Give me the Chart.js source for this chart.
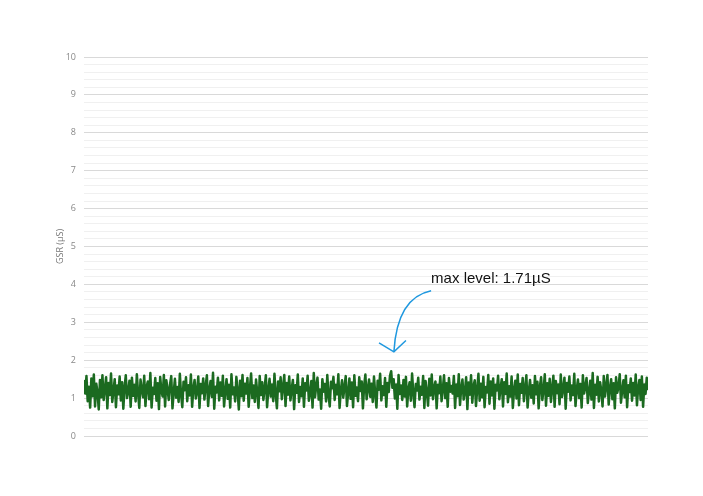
<!DOCTYPE html>
<html lang="en">
<head>
    <meta charset="UTF-8">
    <title>GSR</title>
    <script src="https://cdn.jsdelivr.net/npm/chart.js"></script>
    <style>
        body { margin: 0; background: #fff; }
    </style>
</head>
<body>
    <canvas id="gsrChart" width="703" height="496"></canvas>

    <script>
        // GSR readings (µS)
        const gsrValues = [
            1.45,1.12,1.58,0.92,1.30,0.75,1.52,1.05,1.62,0.78,1.38,1.15,0.70,1.48,1.02,1.60,0.95,1.25,1.55,0.73,
            1.40,1.08,1.65,0.90,1.20,1.50,0.76,1.33,1.10,1.57,0.94,1.42,0.72,1.28,1.60,1.00,1.18,1.46,0.77,1.54,
            1.06,1.35,0.91,1.63,1.14,0.74,1.49,1.22,1.02,1.59,0.79,1.31,1.44,0.97,1.66,0.75,1.27,1.11,1.53,0.93,
            1.39,0.71,1.56,1.19,1.04,1.61,0.78,1.47,1.24,0.95,1.36,1.58,0.73,1.16,1.51,1.01,1.29,0.90,1.64,1.09,
            0.76,1.43,1.21,1.55,0.92,1.34,1.07,1.62,0.77,1.26,1.48,0.99,1.17,1.57,0.74,1.37,1.13,1.52,0.96,1.32,
            1.60,0.79,1.23,1.45,1.03,1.67,0.72,1.30,1.15,1.54,0.94,1.41,1.06,1.59,0.78,1.19,1.50,0.98,1.35,0.75,
            1.63,1.10,1.28,0.91,1.56,1.20,0.70,1.46,1.05,1.61,0.93,1.38,1.12,1.53,0.77,1.25,1.65,1.00,1.33,0.90,
            1.49,1.16,0.74,1.58,1.08,1.42,0.95,1.27,1.60,0.76,1.22,1.51,1.04,1.36,0.92,1.64,1.11,0.73,1.44,1.18,
            1.55,0.97,1.31,1.61,0.79,1.40,1.09,1.57,0.94,1.24,1.48,0.71,1.34,1.14,1.62,0.90,1.29,1.05,1.52,0.77,
            1.39,1.20,1.59,0.93,1.13,1.45,0.75,1.66,1.02,1.32,1.54,0.96,1.23,0.72,1.50,1.17,1.37,0.91,1.61,1.07,
            0.78,1.43,1.26,1.56,0.95,1.35,1.10,1.63,0.74,1.21,1.47,1.01,1.30,1.58,0.79,1.15,1.52,0.98,1.41,0.76,
            1.60,1.06,1.28,0.92,1.55,1.19,1.44,0.73,1.34,1.62,0.97,1.24,1.49,1.03,1.38,0.90,1.57,1.12,0.75,1.46,
            1.22,1.64,0.94,1.31,1.08,1.53,0.77,1.40,1.16,1.59,1.71,1.27,1.50,0.99,1.36,0.72,1.61,1.11,1.33,0.95,
            1.48,1.04,1.56,0.78,1.25,1.42,0.93,1.65,1.14,0.76,1.37,1.20,1.54,0.96,1.30,1.09,1.58,0.74,1.45,1.18,
            0.80,1.51,1.07,1.62,0.97,1.29,1.44,0.73,1.35,1.13,1.57,0.92,1.23,1.60,1.00,1.39,0.77,1.53,1.17,1.32,
            1.12,1.58,0.74,1.36,1.05,1.63,0.82,1.27,1.49,0.96,1.18,1.55,0.71,1.41,1.09,1.60,0.88,1.32,1.47,0.79,
            1.24,1.64,0.93,1.38,1.02,1.56,0.76,1.29,1.15,1.61,0.85,1.44,1.07,1.52,0.72,1.35,1.20,1.59,0.97,1.26,
            1.50,0.78,1.42,1.11,1.65,0.89,1.31,1.04,1.57,0.74,1.22,1.46,0.99,1.62,0.81,1.37,1.14,1.53,0.92,1.28,
            1.60,0.75,1.19,1.48,1.01,1.34,0.86,1.58,1.10,1.43,0.73,1.30,1.55,0.95,1.21,1.63,0.80,1.39,1.06,1.51,
            0.90,1.27,1.59,0.77,1.45,1.13,1.36,0.84,1.62,1.03,1.25,1.54,0.72,1.40,1.17,1.57,0.94,1.33,1.08,1.64,
            0.79,1.23,1.49,1.00,1.37,0.75,1.60,1.12,1.30,1.53,0.87,1.18,1.46,0.96,1.66,0.74,1.35,1.09,1.56,0.91,
            1.42,1.20,0.78,1.58,1.04,1.32,1.61,0.83,1.26,1.50,0.97,1.39,0.73,1.55,1.14,1.29,1.63,0.88,1.21,1.47,
            1.02,1.59,0.76,1.34,1.16,1.52,0.93,1.40,1.07,1.62,0.81,1.28,1.48,0.95,1.57,0.77,1.36,1.11,1.54,1.24
        ];
        const sampleIndex = gsrValues.map((v, i) => i);
        const yTicks = [0, 1, 2, 3, 4, 5, 6, 7, 8, 9, 10];
        const maxLabel = 'max level: 1.71µS';

        // callout in data units (sample index, µS)
        const callout = {
            text: { x: 282.5, y: 4.14 },
            start: { x: 282.5, y: 3.83 },
            ctrl: { x: 254.8, y: 3.65 },
            tip: { x: 252.2, y: 2.22 },
            headL: { x: 240.1, y: 2.46 },
            headR: { x: 262, y: 2.52 }
        };

        const calloutPlugin = {
            id: 'callout',
            afterDatasetsDraw(chart) {
                const { ctx, scales: { x, y } } = chart;
                const p = pt => [x.getPixelForValue(pt.x), y.getPixelForValue(pt.y)];
                ctx.save();
                ctx.font = '15px "Liberation Sans", Arial, sans-serif';
                ctx.fillStyle = '#111';
                ctx.textBaseline = 'middle';
                const [tx, ty] = p(callout.text);
                ctx.fillText(maxLabel, tx, ty);

                ctx.strokeStyle = '#1f98df';
                ctx.lineWidth = 1.5;
                const [sx, sy] = p(callout.start);
                const [cx, cy] = p(callout.ctrl);
                const [ex, ey] = p(callout.tip);
                ctx.beginPath();
                ctx.moveTo(sx, sy);
                ctx.quadraticCurveTo(cx, cy, ex, ey);
                ctx.stroke();
                const [lx, ly] = p(callout.headL);
                const [rx, ry] = p(callout.headR);
                ctx.beginPath();
                ctx.moveTo(lx, ly);
                ctx.lineTo(ex, ey);
                ctx.lineTo(rx, ry);
                ctx.stroke();
                ctx.restore();
            }
        };

        const ctx = document.getElementById('gsrChart').getContext('2d');
        new Chart(ctx, {
            type: 'line',
            data: {
                labels: sampleIndex,
                datasets: [{
                    label: 'GSR',
                    data: gsrValues,
                    borderColor: '#1b6a20',
                    borderWidth: 2.5,
                    borderJoinStyle: 'round',
                    borderCapStyle: 'round',
                    pointRadius: 0,
                    tension: 0,
                    fill: false
                }]
            },
            options: {
                responsive: false,
                animation: false,
                layout: { padding: { left: 51, right: 55, top: 57, bottom: 60 } },
                plugins: {
                    legend: { display: false },
                    tooltip: { enabled: false }
                },
                scales: {
                    x: {
                        type: 'linear',
                        min: 0,
                        max: gsrValues.length - 1,
                        display: false
                    },
                    y: {
                        min: 0,
                        max: 10,
                        border: { display: false },
                        afterFit: s => { s.width = 33; },
                        title: {
                            display: true,
                            text: 'GSR (µS)',
                            color: '#777',
                            font: { size: 9, family: '"Open Sans", sans-serif' },
                            padding: 4
                        },
                        ticks: {
                            stepSize: 0.2,
                            autoSkip: false,
                            padding: 8,
                            color: '#888',
                            font: { size: 9, family: '"Open Sans", sans-serif' },
                            callback: v => {
                                const r = Math.round(v);
                                return Math.abs(v - r) < 1e-6 && yTicks.includes(r) ? String(r) : '';
                            }
                        },
                        grid: {
                            drawTicks: false,
                            lineWidth: 1,
                            color: c => Math.abs(c.tick.value - Math.round(c.tick.value)) < 1e-6 ? '#d9d9d9' : '#f0f0f0'
                        }
                    }
                }
            },
            plugins: [calloutPlugin]
        });
    </script>
</body>
</html>
